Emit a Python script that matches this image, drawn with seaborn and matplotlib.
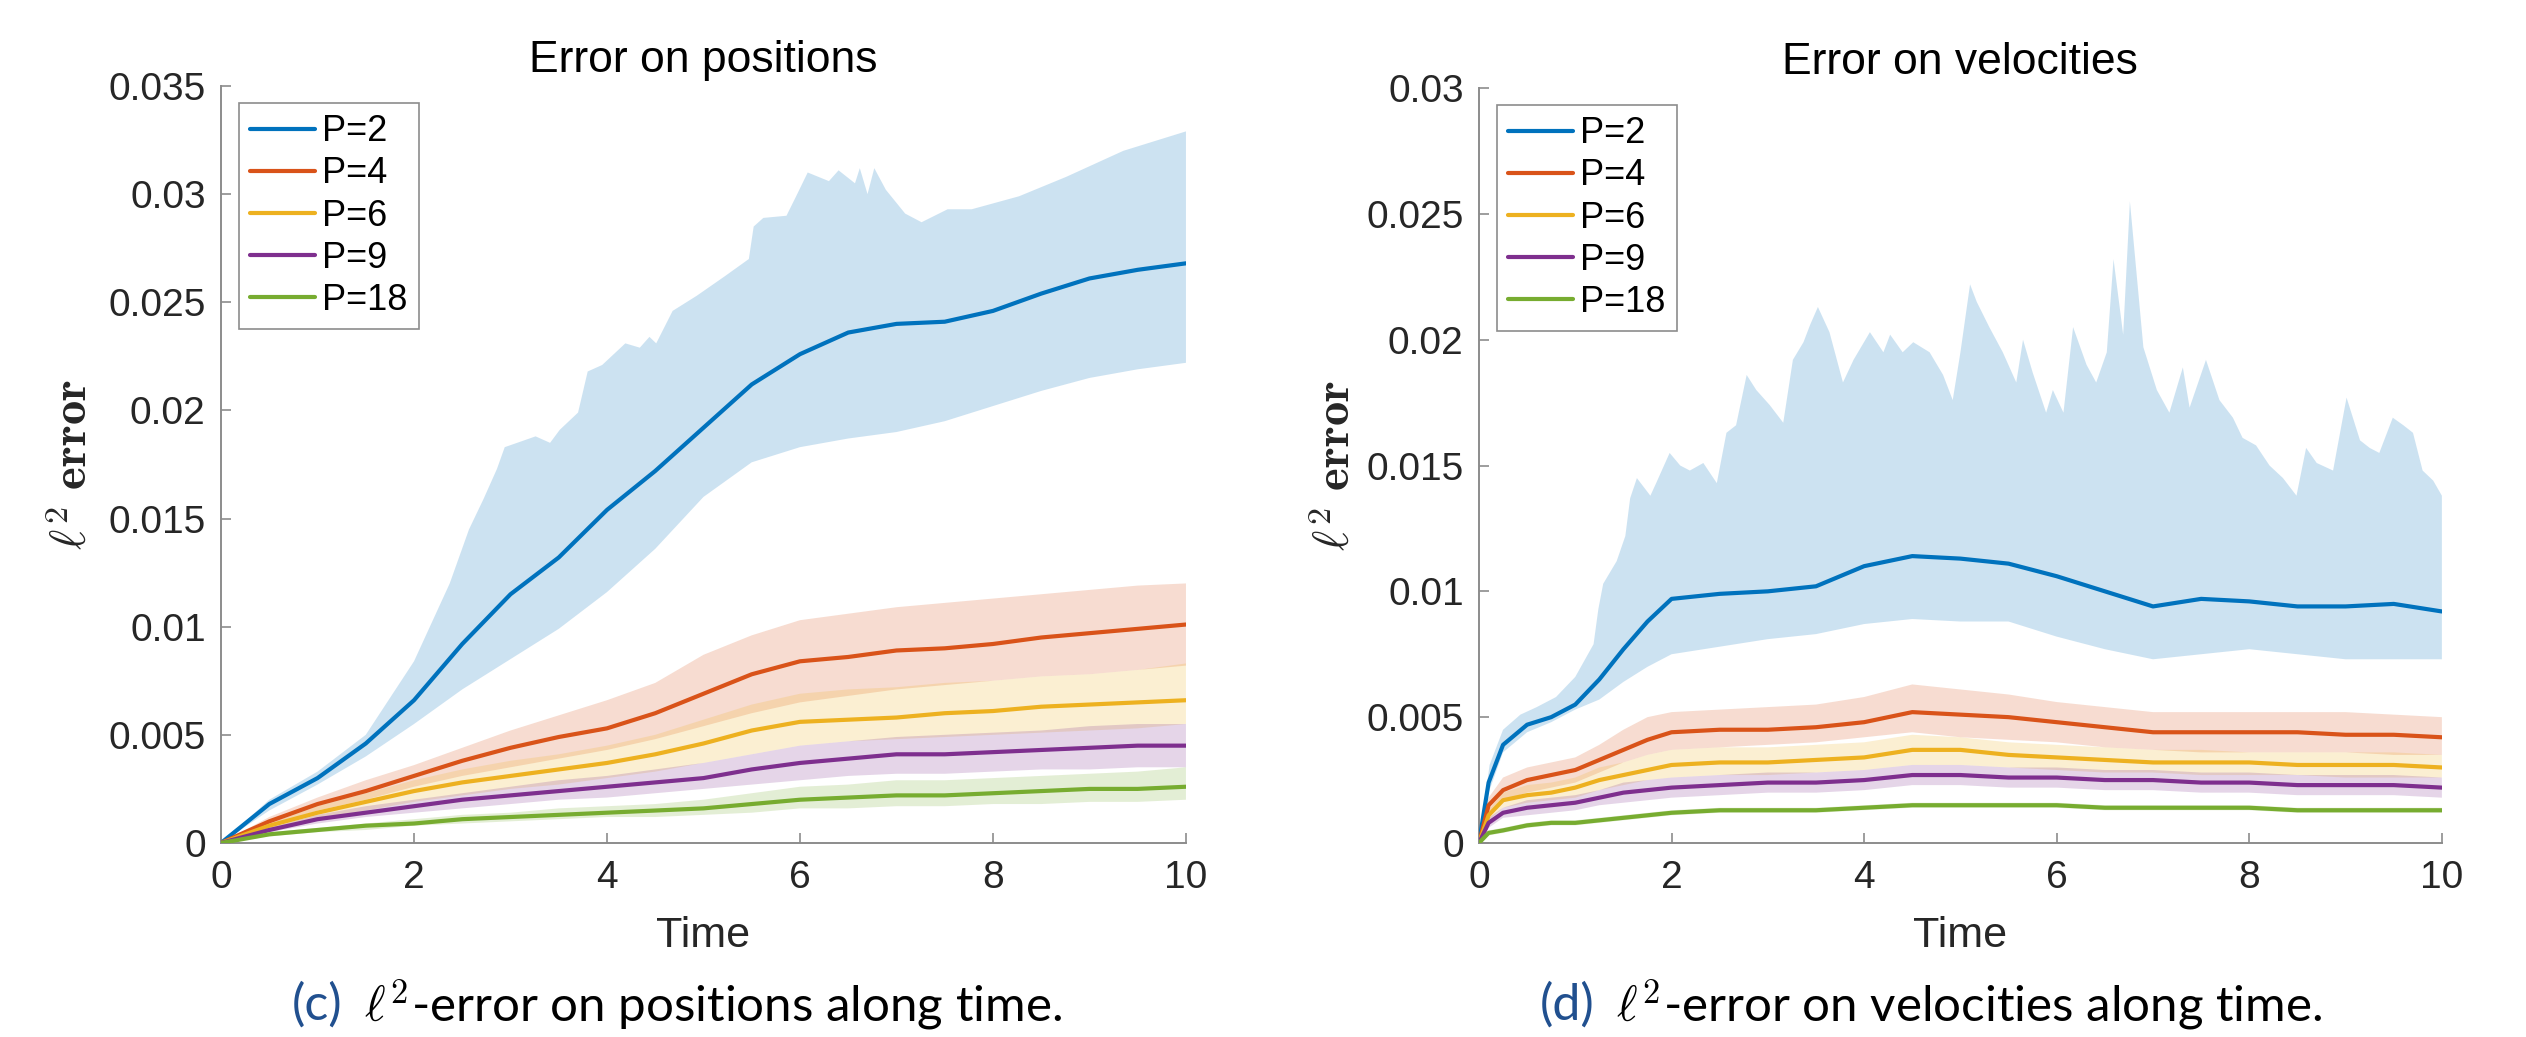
import numpy as np
import matplotlib
matplotlib.use("Agg")
import matplotlib.pyplot as plt
import seaborn as sns

sns.set_theme(style="white")
plt.rcParams['font.family'] = ['Liberation Sans', 'DejaVu Sans']
plt.rcParams['mathtext.fontset'] = 'cm'

# ---- data ----
labels = ['P=2', 'P=4', 'P=6', 'P=9', 'P=18']
colors = ['#0072BD', '#D95319', '#EDB120', '#7E2F8E', '#77AC30']

# (c) error on positions
pos_t = [0, 0.5, 1, 1.5, 2, 2.5, 3, 3.5, 4, 4.5, 5, 5.5, 6, 6.5, 7, 7.5, 8, 8.5, 9, 9.5, 10]
pos_mean = {
    'P=2':  [0, 0.0018, 0.003, 0.0046, 0.0066, 0.0092, 0.0115, 0.0132, 0.0154, 0.0172, 0.0192, 0.0212, 0.0226, 0.0236, 0.024, 0.0241, 0.0246, 0.0254, 0.0261, 0.0265, 0.0268],
    'P=4':  [0, 0.001, 0.0018, 0.0024, 0.0031, 0.0038, 0.0044, 0.0049, 0.0053, 0.006, 0.0069, 0.0078, 0.0084, 0.0086, 0.0089, 0.009, 0.0092, 0.0095, 0.0097, 0.0099, 0.0101],
    'P=6':  [0, 0.0008, 0.0014, 0.0019, 0.0024, 0.0028, 0.0031, 0.0034, 0.0037, 0.0041, 0.0046, 0.0052, 0.0056, 0.0057, 0.0058, 0.006, 0.0061, 0.0063, 0.0064, 0.0065, 0.0066],
    'P=9':  [0, 0.0006, 0.0011, 0.0014, 0.0017, 0.002, 0.0022, 0.0024, 0.0026, 0.0028, 0.003, 0.0034, 0.0037, 0.0039, 0.0041, 0.0041, 0.0042, 0.0043, 0.0044, 0.0045, 0.0045],
    'P=18': [0, 0.0004, 0.0006, 0.0008, 0.0009, 0.0011, 0.0012, 0.0013, 0.0014, 0.0015, 0.0016, 0.0018, 0.002, 0.0021, 0.0022, 0.0022, 0.0023, 0.0024, 0.0025, 0.0025, 0.0026],
}
pos_upper = {
    'P=4':  [0, 0.0012, 0.0021, 0.0029, 0.0036, 0.0044, 0.0052, 0.0059, 0.0066, 0.0074, 0.0087, 0.0096, 0.0103, 0.0106, 0.0109, 0.0111, 0.0113, 0.0115, 0.0117, 0.0119, 0.012],
    'P=6':  [0, 0.0009, 0.0017, 0.0023, 0.0029, 0.0034, 0.0038, 0.0041, 0.0045, 0.005, 0.0057, 0.0064, 0.0069, 0.0071, 0.0072, 0.0074, 0.0075, 0.0077, 0.0078, 0.008, 0.0083],
    'P=9':  [0, 0.0007, 0.0013, 0.0017, 0.002, 0.0023, 0.0026, 0.0029, 0.0031, 0.0034, 0.0037, 0.0041, 0.0045, 0.0047, 0.0049, 0.005, 0.0051, 0.0052, 0.0054, 0.0055, 0.0055],
    'P=18': [0, 0.0005, 0.0007, 0.0009, 0.0011, 0.0013, 0.0014, 0.0016, 0.0017, 0.0018, 0.002, 0.0023, 0.0026, 0.0027, 0.0029, 0.0029, 0.003, 0.0031, 0.0032, 0.0033, 0.0035],
}
pos_lower = {
    'P=2':  [0, 0.0015, 0.0027, 0.004, 0.0055, 0.0071, 0.0085, 0.0099, 0.0116, 0.0136, 0.016, 0.0176, 0.0183, 0.0187, 0.019, 0.0195, 0.0202, 0.0209, 0.0215, 0.0219, 0.0222],
    'P=4':  [0, 0.0008, 0.0015, 0.002, 0.0026, 0.0031, 0.0035, 0.0039, 0.0043, 0.0048, 0.0054, 0.006, 0.0065, 0.0068, 0.0071, 0.0073, 0.0075, 0.0077, 0.0078, 0.008, 0.0082],
    'P=6':  [0, 0.0006, 0.0011, 0.0015, 0.0019, 0.0022, 0.0025, 0.0027, 0.003, 0.0033, 0.0037, 0.0041, 0.0045, 0.0047, 0.0048, 0.0049, 0.005, 0.0051, 0.0052, 0.0053, 0.0055],
    'P=9':  [0, 0.0005, 0.0009, 0.0012, 0.0014, 0.0016, 0.0018, 0.002, 0.0021, 0.0023, 0.0025, 0.0027, 0.0029, 0.0031, 0.0032, 0.0032, 0.0033, 0.0034, 0.0034, 0.0035, 0.0035],
    'P=18': [0, 0.0003, 0.0005, 0.0006, 0.0008, 0.0009, 0.001, 0.0011, 0.0012, 0.0012, 0.0013, 0.0014, 0.0016, 0.0016, 0.0017, 0.0017, 0.0018, 0.0018, 0.0019, 0.0019, 0.002],
}
# jagged upper edge of the P=2 band, on its own time samples
pos_up2_t = [0, 0.5, 1, 1.5, 2, 2.37, 2.57, 2.72, 2.86, 2.94, 3.26, 3.41, 3.51, 3.7, 3.8, 3.95, 4.19, 4.34, 4.44, 4.51,
             4.68, 4.93, 5.22, 5.47, 5.52, 5.62, 5.86, 5.96, 6.08, 6.3, 6.4, 6.57, 6.62, 6.7, 6.77, 6.89, 7.09, 7.26,
             7.53, 7.78, 8.27, 8.76, 9.35, 10]
pos_up2 = [0, 0.002, 0.0033, 0.005, 0.0084, 0.012, 0.0145, 0.0159, 0.0173, 0.0183, 0.0188, 0.0185, 0.0191, 0.0199,
           0.0218, 0.0221, 0.0231, 0.0229, 0.0234, 0.0231, 0.0246, 0.0253, 0.0262, 0.027, 0.0285, 0.0289, 0.029,
           0.0299, 0.031, 0.0306, 0.0311, 0.0305, 0.0312, 0.03, 0.0312, 0.0302, 0.0291, 0.0287, 0.0293, 0.0293,
           0.0299, 0.0308, 0.032, 0.0329]

# (d) error on velocities
vel_t = [0, 0.1, 0.25, 0.5, 0.75, 1, 1.25, 1.5, 1.75, 2, 2.5, 3, 3.5, 4, 4.5, 5, 5.5, 6, 6.5, 7, 7.5, 8, 8.5, 9, 9.5, 10]
vel_mean = {
    'P=2':  [0, 0.0024, 0.0039, 0.0047, 0.005, 0.0055, 0.0065, 0.0077, 0.0088, 0.0097, 0.0099, 0.01, 0.0102, 0.011, 0.0114, 0.0113, 0.0111, 0.0106, 0.01, 0.0094, 0.0097, 0.0096, 0.0094, 0.0094, 0.0095, 0.0092],
    'P=4':  [0, 0.0015, 0.0021, 0.0025, 0.0027, 0.0029, 0.0033, 0.0037, 0.0041, 0.0044, 0.0045, 0.0045, 0.0046, 0.0048, 0.0052, 0.0051, 0.005, 0.0048, 0.0046, 0.0044, 0.0044, 0.0044, 0.0044, 0.0043, 0.0043, 0.0042],
    'P=6':  [0, 0.0011, 0.0017, 0.0019, 0.002, 0.0022, 0.0025, 0.0027, 0.0029, 0.0031, 0.0032, 0.0032, 0.0033, 0.0034, 0.0037, 0.0037, 0.0035, 0.0034, 0.0033, 0.0032, 0.0032, 0.0032, 0.0031, 0.0031, 0.0031, 0.003],
    'P=9':  [0, 0.0008, 0.0012, 0.0014, 0.0015, 0.0016, 0.0018, 0.002, 0.0021, 0.0022, 0.0023, 0.0024, 0.0024, 0.0025, 0.0027, 0.0027, 0.0026, 0.0026, 0.0025, 0.0025, 0.0024, 0.0024, 0.0023, 0.0023, 0.0023, 0.0022],
    'P=18': [0, 0.0004, 0.0005, 0.0007, 0.0008, 0.0008, 0.0009, 0.001, 0.0011, 0.0012, 0.0013, 0.0013, 0.0013, 0.0014, 0.0015, 0.0015, 0.0015, 0.0015, 0.0014, 0.0014, 0.0014, 0.0014, 0.0013, 0.0013, 0.0013, 0.0013],
}
vel_upper = {
    'P=4':  [0, 0.0018, 0.0026, 0.003, 0.0032, 0.0034, 0.0039, 0.0045, 0.005, 0.0052, 0.0053, 0.0054, 0.0055, 0.0058, 0.0063, 0.0061, 0.0059, 0.0056, 0.0054, 0.0052, 0.0052, 0.0052, 0.0052, 0.0052, 0.0051, 0.005],
    'P=6':  [0, 0.0013, 0.002, 0.0023, 0.0024, 0.0026, 0.003, 0.0032, 0.0035, 0.0037, 0.0038, 0.0038, 0.0039, 0.004, 0.0043, 0.0042, 0.004, 0.0039, 0.0038, 0.0037, 0.0037, 0.0036, 0.0036, 0.0036, 0.0036, 0.0035],
    'P=9':  [0, 0.001, 0.0014, 0.0017, 0.0018, 0.0019, 0.0021, 0.0024, 0.0025, 0.0026, 0.0027, 0.0028, 0.0028, 0.0029, 0.0031, 0.0031, 0.003, 0.003, 0.0029, 0.0029, 0.0028, 0.0028, 0.0027, 0.0027, 0.0027, 0.0026],
    'P=18': [0, 0.0005, 0.0006, 0.0008, 0.0009, 0.0009, 0.001, 0.0011, 0.0012, 0.0013, 0.0014, 0.0014, 0.0014, 0.0015, 0.0016, 0.0016, 0.0016, 0.0016, 0.0015, 0.0015, 0.0015, 0.0015, 0.0014, 0.0014, 0.0014, 0.0014],
}
vel_lower = {
    'P=2':  [0, 0.002, 0.0036, 0.0044, 0.0048, 0.0053, 0.0057, 0.0064, 0.007, 0.0075, 0.0078, 0.0081, 0.0083, 0.0087, 0.0089, 0.0088, 0.0088, 0.0082, 0.0077, 0.0073, 0.0075, 0.0077, 0.0075, 0.0073, 0.0073, 0.0073],
    'P=4':  [0, 0.0012, 0.0017, 0.002, 0.0022, 0.0024, 0.0028, 0.0032, 0.0035, 0.0037, 0.0038, 0.0039, 0.004, 0.0042, 0.0044, 0.0042, 0.0041, 0.004, 0.0038, 0.0037, 0.0036, 0.0036, 0.0036, 0.0036, 0.0035, 0.0035],
    'P=6':  [0, 0.0009, 0.0014, 0.0016, 0.0017, 0.0018, 0.0021, 0.0023, 0.0025, 0.0026, 0.0027, 0.0027, 0.0028, 0.0029, 0.0031, 0.0031, 0.003, 0.0029, 0.0028, 0.0028, 0.0027, 0.0027, 0.0027, 0.0026, 0.0026, 0.0026],
    'P=9':  [0, 0.0006, 0.001, 0.0011, 0.0012, 0.0013, 0.0015, 0.0016, 0.0017, 0.0018, 0.0019, 0.002, 0.002, 0.0021, 0.0023, 0.0023, 0.0022, 0.0022, 0.0021, 0.0021, 0.002, 0.002, 0.0019, 0.0019, 0.0019, 0.0018],
    'P=18': [0, 0.0003, 0.0004, 0.0006, 0.0007, 0.0007, 0.0008, 0.0009, 0.001, 0.0011, 0.0012, 0.0012, 0.0012, 0.0013, 0.0014, 0.0014, 0.0014, 0.0014, 0.0013, 0.0013, 0.0013, 0.0013, 0.0012, 0.0012, 0.0012, 0.0012],
}
vel_up2_t = [0, 0.11, 0.25, 0.43, 0.6, 0.8, 1.0, 1.19, 1.24, 1.29, 1.43, 1.52, 1.57, 1.64, 1.78, 1.84, 1.98, 2.09, 2.19,
             2.33, 2.47, 2.57, 2.67, 2.78, 2.88, 3.02, 3.16, 3.26, 3.37, 3.44, 3.52, 3.64, 3.78, 3.89, 4.06, 4.2, 4.27,
             4.4, 4.51, 4.68, 4.82, 4.92, 5.0, 5.1, 5.17, 5.3, 5.44, 5.58, 5.65, 5.75, 5.89, 5.96, 6.07, 6.17, 6.31,
             6.41, 6.52, 6.59, 6.69, 6.76, 6.9, 7.04, 7.17, 7.31, 7.38, 7.55, 7.69, 7.83, 7.93, 8.07, 8.21, 8.35, 8.49,
             8.59, 8.7, 8.87, 9.01, 9.15, 9.25, 9.35, 9.49, 9.6, 9.7, 9.8, 9.91, 10]
vel_up2 = [0, 0.0031, 0.0045, 0.0051, 0.0054, 0.0058, 0.0066, 0.0079, 0.0093, 0.0103, 0.0112, 0.0122, 0.0137, 0.0145,
           0.0138, 0.0143, 0.0155, 0.015, 0.0148, 0.0151, 0.0143, 0.0163, 0.0166, 0.0186, 0.018, 0.0174, 0.0167,
           0.0192, 0.0199, 0.0206, 0.0213, 0.0203, 0.0183, 0.0192, 0.0203, 0.0195, 0.0202, 0.0195, 0.0199, 0.0195,
           0.0186, 0.0176, 0.0195, 0.0222, 0.0215, 0.0205, 0.0195, 0.0183, 0.02, 0.0187, 0.0171, 0.018, 0.0171,
           0.0205, 0.019, 0.0183, 0.0195, 0.0232, 0.0202, 0.0255, 0.0197, 0.018, 0.0171, 0.0189, 0.0173, 0.0192,
           0.0176, 0.0169, 0.0161, 0.0158, 0.015, 0.0145, 0.0138, 0.0157, 0.0151, 0.0148, 0.0177, 0.016, 0.0157,
           0.0155, 0.0169, 0.0166, 0.0163, 0.0148, 0.0144, 0.0138]

x_ticks = [0, 2, 4, 6, 8, 10]
pos_yticks = [0, 0.005, 0.01, 0.015, 0.02, 0.025, 0.03, 0.035]
vel_yticks = [0, 0.005, 0.01, 0.015, 0.02, 0.025, 0.03]

axis_gray = '#8c8c8c'
text_dark = '#262626'


def draw_panel(ax, t, mean, upper, lower, up2_t, up2, yticks, title, ylab_x):
    # shaded bands first
    for lab, col in zip(labels, colors):
        lo = lower[lab]
        if lab == 'P=2':
            xs = np.r_[up2_t, t[::-1]]
            ys = np.r_[up2, lo[::-1]]
        else:
            xs = np.r_[t, t[::-1]]
            ys = np.r_[upper[lab], lo[::-1]]
        ax.fill(xs, ys, color=col, alpha=0.2, lw=0, zorder=1)
    for lab, col in zip(labels, colors):
        sns.lineplot(x=t, y=mean[lab], ax=ax, color=col, lw=3.0, label=lab, zorder=3)

    ax.set_xlim(0, 10)
    ax.set_ylim(0, yticks[-1])
    ax.set_xticks(x_ticks)
    ax.set_xticklabels([str(v) for v in x_ticks])
    ax.set_yticks(yticks)
    ax.set_yticklabels(['%g' % v for v in yticks])
    ax.tick_params(direction='in', length=7, width=1.2, colors=axis_gray,
                   labelcolor=text_dark, labelsize=28, left=True, bottom=True)
    ax.tick_params(axis='x', pad=12)
    ax.tick_params(axis='y', pad=11)
    for side in ['top', 'right']:
        ax.spines[side].set_visible(False)
    for side in ['left', 'bottom']:
        ax.spines[side].set_color(axis_gray)
        ax.spines[side].set_linewidth(1.4)

    ax.set_title(title, fontsize=32, color='black', pad=10)
    ax.set_xlabel('Time', fontsize=31, color=text_dark, labelpad=15)
    ax.set_ylabel(r'$\ell^2\ \mathbf{error}$', fontsize=35, color=text_dark)
    ax.yaxis.set_label_coords(ylab_x, 0.5)

    leg = ax.legend(loc='upper left', bbox_to_anchor=(0.019, 0.977), borderaxespad=0,
                    fontsize=26, frameon=True, fancybox=False, framealpha=1,
                    handlelength=1.8, handletextpad=0.2, labelspacing=0.2,
                    borderpad=0.3, edgecolor=axis_gray)
    leg.get_frame().set_linewidth(1.2)
    for txt in leg.get_texts():
        txt.set_color('black')


fig = plt.figure(figsize=(25.26, 10.37), dpi=100)
ax1 = fig.add_axes([0.0875, 0.1871, 0.382, 0.730])
ax2 = fig.add_axes([0.5855, 0.1871, 0.3812, 0.728])

draw_panel(ax1, pos_t, pos_mean, pos_upper, pos_lower, pos_up2_t, pos_up2, pos_yticks,
           'Error on positions', -0.129)
draw_panel(ax2, vel_t, vel_mean, vel_upper, vel_lower, vel_up2_t, vel_up2, vel_yticks,
           'Error on velocities', -0.124)

# sub-figure captions
cap_blue = '#21508f'
cap_y = 0.031
fig.text(292 / 2526, cap_y, '(c)', color=cap_blue, fontsize=36, family='Lato', va='center', ha='left')
fig.text(364 / 2526, cap_y, r'$\ell^2$-error on positions along time.', color='black',
         fontsize=35.5, family='Lato', va='center', ha='left')
fig.text(1540 / 2526, cap_y, '(d)', color=cap_blue, fontsize=36, family='Lato', va='center', ha='left')
fig.text(1616 / 2526, cap_y, r'$\ell^2$-error on velocities along time.', color='black',
         fontsize=35.5, family='Lato', va='center', ha='left')

fig.savefig('out.png', dpi=100)
